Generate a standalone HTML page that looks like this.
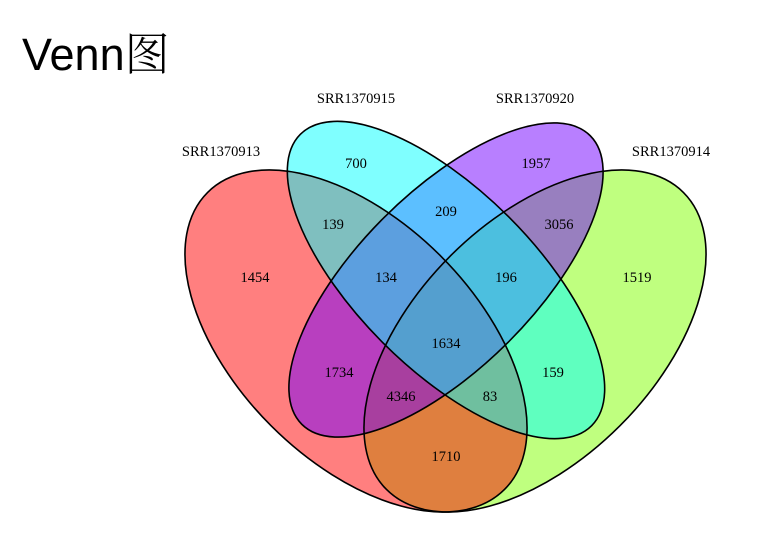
<!DOCTYPE html>
<html><head><meta charset="utf-8"><style>
html,body{margin:0;padding:0;background:#fff;}
body{width:781px;height:556px;overflow:hidden;position:relative;}
.t{position:absolute;left:22px;top:28px;font-family:"Liberation Sans","Noto Sans CJK SC",sans-serif;font-size:45px;color:#000;line-height:1;}
svg{position:absolute;left:0;top:0;}
text{font-family:"Liberation Serif",serif;font-size:14.5px;fill:#000;text-anchor:middle;}
</style></head><body>
<div class="t">Venn<span style="font-family:'Noto Serif CJK SC',serif;font-weight:300">图</span></div>
<svg width="781" height="556" viewBox="0 0 781 556">
<g fill-opacity="0.5" stroke="none">
<ellipse cx="535" cy="341" rx="210" ry="120" transform="rotate(-45 535 341)" fill="#80ff00"/>
<ellipse cx="356" cy="341" rx="210" ry="120" transform="rotate(45 356 341)" fill="#ff0000"/>
<ellipse cx="446" cy="280" rx="204" ry="88" transform="rotate(-45 446 280)" fill="#7100ff"/>
<ellipse cx="446" cy="280" rx="206" ry="89" transform="rotate(45 446 280)" fill="#00ffff"/>
</g>
<g fill="none" stroke="#000" stroke-width="1.6">
<ellipse cx="535" cy="341" rx="210" ry="120" transform="rotate(-45 535 341)"/>
<ellipse cx="356" cy="341" rx="210" ry="120" transform="rotate(45 356 341)"/>
<ellipse cx="446" cy="280" rx="204" ry="88" transform="rotate(-45 446 280)"/>
<ellipse cx="446" cy="280" rx="206" ry="89" transform="rotate(45 446 280)"/>
</g>
<text x="221" y="156">SRR1370913</text>
<text x="356" y="103">SRR1370915</text>
<text x="535" y="103">SRR1370920</text>
<text x="671" y="156">SRR1370914</text>
<text x="255" y="282">1454</text>
<text x="356" y="168">700</text>
<text x="333" y="229">139</text>
<text x="446" y="216">209</text>
<text x="536" y="168">1957</text>
<text x="559" y="229">3056</text>
<text x="386" y="282">134</text>
<text x="506" y="282">196</text>
<text x="637" y="282">1519</text>
<text x="446" y="348">1634</text>
<text x="339" y="377">1734</text>
<text x="553" y="377">159</text>
<text x="401" y="401">4346</text>
<text x="490" y="401">83</text>
<text x="446" y="461">1710</text>
</svg>
</body></html>
